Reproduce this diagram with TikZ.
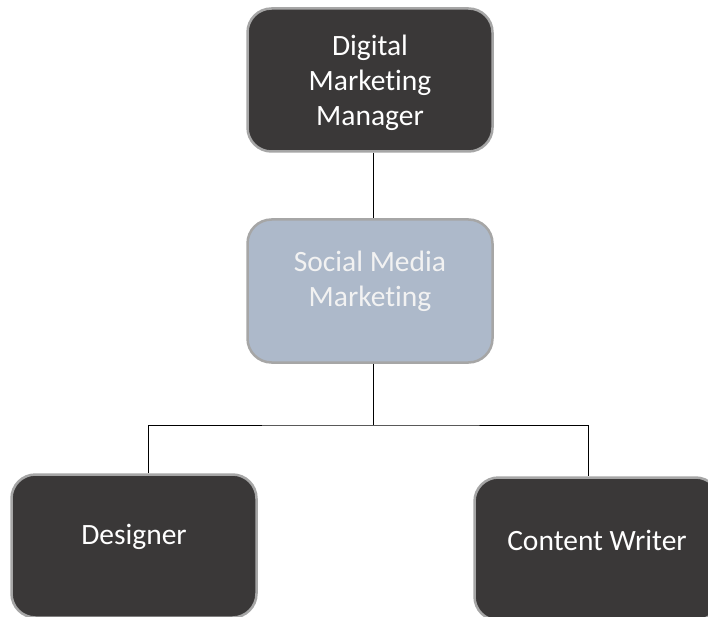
\documentclass[tikz,border=0pt]{standalone}
\usepackage{fontspec}
\setmainfont[Ligatures=NoCommon]{Carlito}
\definecolor{boxdark}{HTML}{3A3838}
\definecolor{boxblue}{HTML}{ADB9CA}
\definecolor{boxedge}{HTML}{A6A6A6}

\begin{document}
\begin{tikzpicture}[x=1pt,y=-1pt,
  darkbox/.style={draw=boxedge, line width=2.5pt, fill=boxdark, rounded corners=24pt,
    minimum width=245pt, minimum height=143pt, inner sep=0pt},
  bluebox/.style={darkbox, fill=boxblue},
  boxtext/.style={text=white, font=\fontsize{29.5}{35}\selectfont, align=center, inner sep=0pt},
  link/.style={black, line width=1pt}]
\useasboundingbox (0,0) rectangle (708,617);
\clip (0,0) rectangle (708,617);
\node [darkbox] (dmm) at (370,80) {};
\node [boxtext] (dmm-t) at ([yshift=-3]dmm.center) {Digital\\Marketing\\Manager};
\node [bluebox] (smm) at (370,291) {};
\node [boxtext, text=white!95!black] (smm-t) at ([yshift=10]smm.center) {Social Media\\Marketing};
\node [darkbox] (des) at (134,546) {};
\node [boxtext] (des-t) at ([yshift=9]des.center) {Designer};
\node [darkbox] (cw) at (597,549) {};
\node [boxtext] (cw-t) at ([yshift=9]cw.center) {Content Writer};
% connectors
\coordinate (split) at (373,425);
\draw [link] ([xshift=3]dmm.south) -- ([xshift=3]smm.north);
\draw [link] ([xshift=3]smm.south) -- (split);
\draw [link] ([xshift=14]des.north) |- (split) -| ([xshift=-9]cw.north);
\end{tikzpicture}
\end{document}
